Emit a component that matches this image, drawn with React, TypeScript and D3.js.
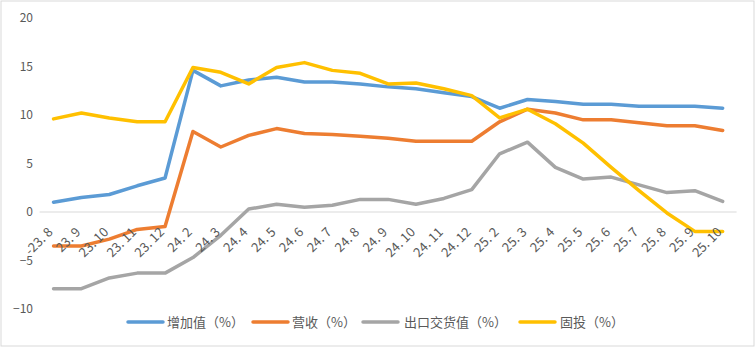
import React from "react";
import * as d3 from "d3";

const categories = ["23.8","23.9","23.10","23.11","23.12","24.2","24.3","24.4","24.5","24.6","24.7","24.8","24.9","24.10","24.11","24.12","25.2","25.3","25.4","25.5","25.6","25.7","25.8","25.9","25.10"];
const tickLabels = ["-23. 8","23. 9","23. 10","23. 11","23. 12","24. 2","24. 3","24. 4","24. 5","24. 6","24. 7","24. 8","24. 9","24. 10","24. 11","24. 12","25. 2","25. 3","25. 4","25. 5","25. 6","25. 7","25. 8","25. 9","25. 10"];
const yTicks = [-10, -5, 0, 5, 10, 15, 20];

const addedValue = [1.0,1.5,1.8,2.7,3.5,14.6,13.0,13.6,13.9,13.4,13.4,13.2,12.9,12.7,12.3,11.9,10.7,11.6,11.4,11.1,11.1,10.9,10.9,10.9,10.7];
const revenue = [-3.5,-3.5,-2.8,-1.8,-1.5,8.3,6.7,7.9,8.6,8.1,8.0,7.8,7.6,7.3,7.3,7.3,9.3,10.6,10.2,9.5,9.5,9.2,8.9,8.9,8.4];
const exportValue = [-7.9,-7.9,-6.8,-6.3,-6.3,-4.7,-2.4,0.3,0.8,0.5,0.7,1.3,1.3,0.8,1.4,2.3,6.0,7.2,4.6,3.4,3.6,2.8,2.0,2.2,1.1];
const fixedInvest = [9.6,10.2,9.7,9.3,9.3,14.9,14.4,13.2,14.9,15.4,14.6,14.3,13.2,13.3,12.7,12.0,9.7,10.6,9.1,7.1,4.6,2.2,-0.1,-2.0,-2.0];

const seriesNames = ["增加值（%）", "营收（%）", "出口交货值（%）", "固投（%）"];
const seriesValues = [addedValue, revenue, exportValue, fixedInvest];
const colors = ["#5B9BD5", "#ED7D31", "#A5A5A5", "#FFC000"];

const W = 755, H = 347;
const font = "'Noto Sans CJK SC', 'Noto Sans', sans-serif";

export default function App() {
  const x = d3.scalePoint<string>().domain(categories).range([39.6, 736.6]).padding(0.5);
  const y = d3.scaleLinear().domain([-10, 20]).range([309, 18]);
  const line = d3.line<number>()
    .x((_, i) => x(categories[i]) as number)
    .y((d) => y(d));

  const legendX = [128, 253, 363, 520];
  const legendTextX = [167, 292, 404, 560];
  const legendY = 322;

  return (
    <>
      <style>{`body{margin:0}`}</style>
      <svg width={W} height={H} style={{ display: "block", fontFamily: font }}>
        <rect x={0} y={0} width={W} height={H} fill="#fff" />
        <rect x={1} y={1} width={753} height={345} fill="none" stroke="#D9D9D9" strokeWidth={1} />
        <line x1={39.6} x2={736.6} y1={y(0)} y2={y(0)} stroke="#D9D9D9" strokeWidth={1} />
        {yTicks.map((t) => (
          <text key={t} x={33} y={y(t)} dy="0.35em" textAnchor="end" fontSize={12} fill="#595959">
            {t < 0 ? `−${Math.abs(t)}` : t}
          </text>
        ))}
        {seriesValues.map((vals, k) => (
          <path key={k} d={line(vals) || ""} fill="none" stroke={colors[k]} strokeWidth={3.5}
            strokeLinejoin="round" strokeLinecap="round" />
        ))}
        {categories.map((c, i) => (
          <text key={c} transform={`translate(${x(c)},233) rotate(-45)`} textAnchor="end"
            fontSize={13} fill="#595959">
            {tickLabels[i]}
          </text>
        ))}
        {seriesNames.map((n, k) => (
          <g key={n}>
            <line x1={legendX[k]} x2={legendX[k] + 35} y1={legendY} y2={legendY} stroke={colors[k]}
              strokeWidth={3.5} strokeLinecap="round" />
            <text x={legendTextX[k]} y={legendY} dy="0.35em" fontSize={13} fill="#595959">{n}</text>
          </g>
        ))}
      </svg>
    </>
  );
}
